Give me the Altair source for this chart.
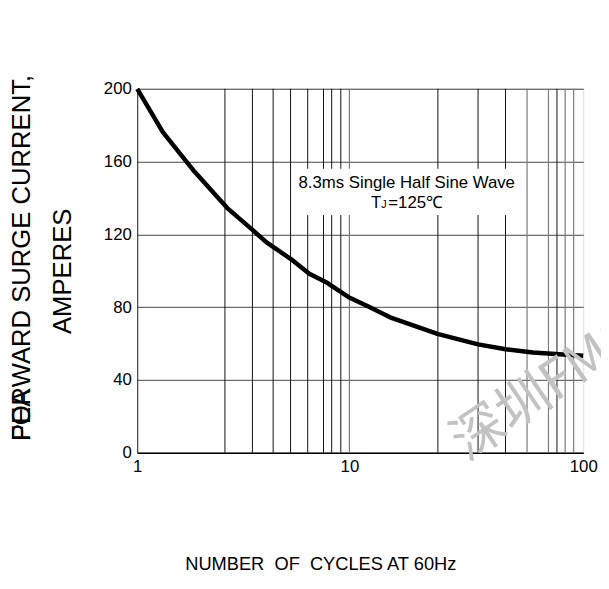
import altair as alt
import pandas as pd

# ---- data ----
cycles = [1.0, 1.32, 1.86, 2.65, 3.46, 4.07, 5.41, 6.47, 7.73, 9.92,
          12.06, 15.14, 23.8, 35.5, 46.6, 60.9, 79.0, 100.0]
current = [200, 176.2, 154.5, 134.6, 122.9, 115.6, 105.7, 98.4, 93.9, 85.5,
           80.4, 74.1, 65.4, 59.6, 56.9, 55.1, 54.2, 53.3]

grid_dark = [2.59, 3.49, 4.37, 5.28, 6.36, 7.55, 8.25, 9.11, 23.9, 35.5, 46.5, 77.2]
grid_gray = [10, 57.5, 71.0, 83.7, 91.0]

x_ticks = [1, 10, 100]
y_ticks = [0, 40, 80, 120, 160, 200]

note_line1 = "8.3ms Single Half Sine Wave"
note_line2_a = "T"
note_line2_b = "J"
note_line2_c = "=125\u2103"
note_box = {"x": 5.62, "x2": 53.2, "y": 156.1, "y2": 130.6}
note_pos = {"x1": 17.58, "y1": 145.4, "x2": 13.7, "y2": 134.3}

FONT = "Liberation Sans"

xscale = alt.Scale(type="log", domain=[1, 10, 100], range=[0, 215, 452], nice=False)
yscale = alt.Scale(domain=[0, 200], nice=False, zero=True)

xaxis = alt.Axis(values=x_ticks, format="d", grid=False, ticks=False, labelFlush=False,
                 labelFontSize=17, labelFont=FONT, labelColor="#000", labelPadding=6,
                 domainColor="#000", domainWidth=1.5, title=None)
yaxis = alt.Axis(values=y_ticks, grid=True, gridColor="#444", gridWidth=1, ticks=False,
                 labelFlush=False, labelFontSize=17, labelFont=FONT, labelColor="#000",
                 labelPadding=6, domainColor="#222", title=None)


def X(field):
    return alt.X(field, scale=xscale, axis=xaxis)


def Y(field):
    return alt.Y(field, scale=yscale, axis=yaxis)


curve_df = pd.DataFrame({"cycles": cycles, "current": current})

rules_dark = alt.Chart(pd.DataFrame({"x": grid_dark})).mark_rule(
    color="#111", strokeWidth=1).encode(x=X("x:Q"))
rules_gray = alt.Chart(pd.DataFrame({"x": grid_gray})).mark_rule(
    color="#7a7a7a", strokeWidth=1.2).encode(x=X("x:Q"))

box = alt.Chart(pd.DataFrame([note_box])).mark_rect(color="white").encode(
    x=X("x:Q"), x2="x2:Q", y=Y("y:Q"), y2="y2:Q")

pos = pd.DataFrame([note_pos])
t1 = alt.Chart(pos).mark_text(text=note_line1, font=FONT, fontSize=17, color="#000",
                              align="center", baseline="alphabetic").encode(
    x=X("x1:Q"), y=Y("y1:Q"))
t2a = alt.Chart(pos).mark_text(text=note_line2_a, font=FONT, fontSize=17, color="#000",
                               align="right", baseline="alphabetic").encode(
    x=X("x2:Q"), y=Y("y2:Q"))
t2b = alt.Chart(pos).mark_text(text=note_line2_b, font=FONT, fontSize=11, color="#000",
                               align="left", baseline="alphabetic").encode(
    x=X("x2:Q"), y=Y("y2:Q"))
t2c = alt.Chart(pos).mark_text(text=note_line2_c, font=FONT, fontSize=17, color="#000",
                               align="left", baseline="alphabetic", dx=7).encode(
    x=X("x2:Q"), y=Y("y2:Q"))

curve = alt.Chart(curve_df).mark_line(color="#000", strokeWidth=4.5,
                                      strokeCap="butt", strokeJoin="round").encode(
    x=X("cycles:Q"), y=Y("current:Q"))

one = pd.DataFrame({"a": [0]})
ytitle1 = alt.Chart(one).mark_text(text="FORWARD SURGE CURRENT,", font=FONT, fontSize=26,
                                   color="#000", angle=270, align="left",
                                   baseline="alphabetic").encode(
    x=alt.value(-109), y=alt.value(357))
ytitle0 = alt.Chart(one).mark_text(text="PEA", font=FONT, fontSize=26,
                                   color="#000", angle=270, align="left",
                                   baseline="alphabetic").encode(
    x=alt.value(-109), y=alt.value(357))
ytitle2 = alt.Chart(one).mark_text(text="AMPERES", font=FONT, fontSize=26,
                                   color="#000", angle=270, align="center",
                                   baseline="alphabetic").encode(
    x=alt.value(-67), y=alt.value(185))
xtitle = alt.Chart(one).mark_text(text="NUMBER\u00a0\u00a0OF\u00a0\u00a0CYCLES AT 60Hz",
                                  font=FONT, fontSize=18.5,
                                  color="#000", align="center",
                                  baseline="alphabetic").encode(
    x=alt.value(186), y=alt.value(488))
watermark = alt.Chart(one).mark_text(text="深圳FMS", font="Noto Sans CJK SC", fontSize=54,
                                     color="#c2c2c2", angle=326, align="left",
                                     baseline="alphabetic").encode(
    x=alt.value(334), y=alt.value(378))

chart = alt.layer(
    rules_dark, rules_gray, box, t1, t2a, t2b, t2c, curve,
    ytitle1, ytitle0, ytitle2, xtitle, watermark
).properties(
    width=452, height=369,
    autosize=alt.AutoSizeParams(type="none"),
    padding={"left": 131, "top": 78, "right": 18, "bottom": 123},
).configure_view(stroke="#555", strokeWidth=1).configure(background="white")

chart.save("out.html", embed_options={"renderer": "svg", "actions": False})
